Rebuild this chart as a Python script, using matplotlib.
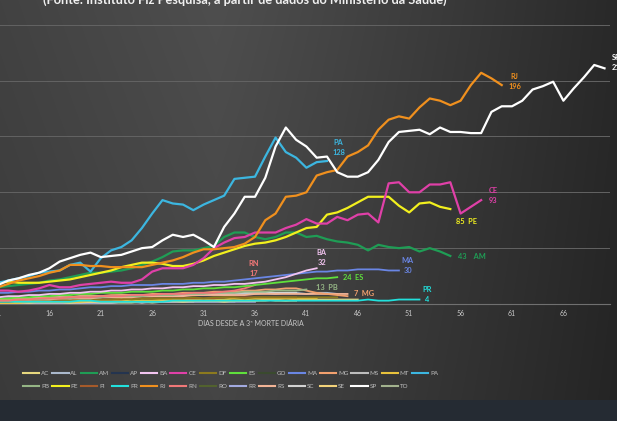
import numpy as np
import matplotlib
matplotlib.use("Agg")
import matplotlib.pyplot as plt
from matplotlib.lines import Line2D

plt.rcParams['font.family'] = ['Lato', 'DejaVu Sans']

# ---------------- data (daily deaths, days since 3rd daily death) ----------------
first_day = 11
SP = [17,21,23,26,28,32,38,41,44,46, 42,43,44,47,50,51,57,62,60,62,
      57,51,69,81,96,96,113,141,158,147, 141,131,132,118,114,114,118,129,145,154,
      155,156,152,158,154,154,153,153,172,177, 177,182,192,195,199,182,193,203,214,211]
RJ = [15,18,21,23,25,28,30,35,35,34, 34,33,33,33,33,35,37,39,42,46,
      49,49,50,51,54,60,75,81,96,97, 100,115,118,120,132,136,142,156,165,168,
      166,176,184,182,178,182,196,207,202,196]
PA = [19,21,23,25,28,29,30,35,37,29, 41,48,51,57,68,81,93,90,89,84,
      89,93,97,112,113,114,132,149,136,131, 122,127,128]
CE = [12,12,11,12,14,17,15,15,17,18, 19,20,19,19,22,29,32,32,32,35,
      41,50,55,59,60,64,64,64,68,71, 76,72,72,78,75,80,81,73,108,109,
      100,100,107,107,109,81,87,93]
PE = [19,20,19,19,19,20,21,22,24,26, 28,30,33,35,37,37,36,34,34,36,
      39,43,46,49,52,54,55,57,60,64, 68,69,80,82,86,91,96,96,96,88,
      82,90,91,87,85]
AM = [15,16,17,18,19,21,22,24,26,28, 28,29,30,32,35,38,42,47,48,48,
      50,52,60,64,64,60,58,60,64,64, 60,61,58,56,55,53,48,53,51,50,
      51,47,50,47,43]
BA = [6,7,7,8,8,9,9,10,10,11, 11,12,12,13,13,14,14,15,15,16,
      16,17,17,18,18,19,20,22,24,27, 30,32]
MA = [10,10,11,11,12,12,13,13,14,15, 15,16,16,17,17,17,18,18,18,19,
      19,20,20,21,22,23,24,25,26,27, 28,29,29,30,30,31,31,31,30,30]
ES = [5,5,6,6,7,7,8,8,9,9, 10,10,10,11,11,11,12,12,13,13,
      14,14,15,15,16,17,18,19,20,21, 22,23,23,24]
RN = [3,3,4,4,5,5,5,6,6,6, 7,7,7,8,8,8,9,9,9,10, 10,10,11,12,14,17]
PB = [3,3,4,4,4,5,5,5,6,6, 6,7,7,7,7,8,8,8,9,9, 9,10,10,10,11,11,11,12,12,12, 13]
MG = [4,4,5,5,5,6,6,6,7,7, 7,8,8,8,8,9,9,9,10,10, 10,11,11,11,12,12,13,13,14,14, 12,10,9,8,7]
PR = [2,2,2,2,2,2,2,2,3,3, 2,2,2,2,2,2,2,3,3,3, 3,3,3,3,3,3,3,3,3,3,
      3,3,3,3,3,3,4,3,3,4, 4,4]
AC = [1,1,2,1,2,2,2,1,2,2, 3,2,2,2,3,2,3,3,2,3, 3,3,2,3,3,3,4,3,3,3]
AL = [4,4,5,4,5,5,6,5,6,6, 6,7,6,7,7,7,8,7,8,8, 8,9,8,9,9,9,10,9,10,10, 9,10,10,9]
AP = [1,1,2,2,2,2,3,2,3,3, 3,3,4,3,4,4,4,3,4,4, 4,4,4,4,4,4,4,4]
DF = [2,2,3,3,3,3,4,3,4,4, 4,4,5,4,5,5,5,5,5,6, 5,6,6,6,5,6,6,6,6,6, 6,6,6,6]
GO = [2,2,2,3,2,3,3,3,3,3, 3,4,3,4,4,4,4,4,4,4, 5,4,5,5,4,5,5,5,5,5]
MS = [0,1,1,1,1,1,1,1,1,2, 1,1,2,2,1,2,2,2,2,2]
MT = [1,1,1,2,2,2,2,2,2,3, 3,3,3,3,3,3,4,4,4,4, 4,4,4,5,4,5,5,5,5,5, 5,5]
PI = [2,2,3,3,3,3,3,4,4,4, 4,4,4,5,5,5,5,5,5,5, 5,5,6,6,6,6,6,6,6,6]
RO = [1,1,1,2,2,2,2,2,2,2, 3,3,3,3,3,3,3,3,3,3, 3,4,4,4,4,4,4,4,4,4, 4,4]
RR = [0,0,1,1,1,1,1,1,1,1, 1,1,2,2,2,2,2,2,2,2, 2,2,2,2,2,2]
RS = [3,3,4,4,4,4,5,5,5,5, 6,6,6,6,7,7,7,7,7,8, 8,8,8,8,8,9,9,9,9,9, 9,9,9,9,9]
SC = [4,5,5,5,6,6,6,6,7,7, 7,7,8,8,8,8,8,9,9,9, 9,9,9,10,10,10,10,10,10,10]
SE = [1,1,1,2,2,2,2,2,2,2, 2,2,3,2,3,3,3,3,3,3, 3,3,3,3,3,3,3,4,3,4, 4,4,4,4,4,4]
TO = [0,0,0,1,1,1,1,1,1,1, 1,1,1,1,2,1,2,2,2,2, 2,2,2,2]

states = ['AC','AL','AM','AP','BA','CE','DF','ES','GO','MA','MG','MS','MT','PA',
          'PB','PE','PI','PR','RJ','RN','RO','RR','RS','SC','SE','SP','TO']
series = dict(AC=AC, AL=AL, AM=AM, AP=AP, BA=BA, CE=CE, DF=DF, ES=ES, GO=GO, MA=MA,
              MG=MG, MS=MS, MT=MT, PA=PA, PB=PB, PE=PE, PI=PI, PR=PR, RJ=RJ, RN=RN,
              RO=RO, RR=RR, RS=RS, SC=SC, SE=SE, SP=SP, TO=TO)
colors = dict(AC='#e6d77e', AL='#aab8cc', AM='#1f9d55', AP='#24344f', BA='#f2c4f0',
              CE='#e040a8', DF='#8c7a1e', ES='#5fe03c', GO='#3a4a2e', MA='#6a86e4',
              MG='#f2a06e', MS='#bdbdbd', MT='#e8c23c', PA='#3cb6e0', PB='#95b585',
              PE='#f2f01e', PI='#a55a2a', PR='#22e0dc', RJ='#f0901e', RN='#f07878',
              RO='#52622e', RR='#a2aae0', RS='#f2b496', SC='#d2d2d2', SE='#f2d27a',
              SP='#ffffff', TO='#a2b28e')
x_ticks = list(range(11, 67, 5))
title_text = "(Fonte: Instituto Fiz Pesquisa, a partir de dados do Ministério da Saúde)"
x_label = "DIAS DESDE A 3ª MORTE DIÁRIA"

# end labels: (text, dx px, dy px, ha)
end_labels = {
    'SP': ("SP\n211", 7, 5.5, 'left'),
    'RJ': ("RJ\n196", 13, 3.5, 'center'),
    'PA': ("PA\n128", 11.5, 13.5, 'center'),
    'CE': ("CE\n93", 12, 5, 'center'),
    'PE': ("85  PE", 16, -12, 'center'),
    'AM': ("43    AM", 22, -1, 'center'),
    'BA': ("BA\n32", 5, 10.5, 'center'),
    'MA': ("MA\n30", 9, 4.5, 'center'),
    'ES': ("24  ES", 16, 0, 'center'),
    'RN': ("RN\n17", -1, 17, 'center'),
    'PB': ("13  PB", 20, 2, 'center'),
    'MG': ("7  MG", 17, 3, 'center'),
    'PR': ("PR\n4", 8, 5.5, 'center'),
}

# ---------------- figure ----------------
W, H = 617, 421
fig = plt.figure(figsize=(W / 100, H / 100), dpi=100)

# background gradient
xx = np.linspace(0, 1, W)[None, :]
yy = np.linspace(0, 1, H)[:, None]
g = np.where(xx < 0.35, 0x42 + (0x4e - 0x42) * xx / 0.35,
             0x4e - (0x4e - 0x29) * ((xx - 0.35) / 0.65) ** 1.1)
g = g * (1 - 0.12 * yy)
img = np.repeat((g / 255.0)[:, :, None], 3, axis=2)
band = int(400)
img[band:, :, :] = np.array([0x25, 0x2b, 0x33]) / 255.0
bg = fig.add_axes([0, 0, 1, 1])
bg.imshow(img, aspect='auto', extent=[0, 1, 0, 1], origin='upper', zorder=0)
bg.set_axis_off()

# main axes (pixel mapping: day 11 at x=-2 px, 10.28 px/day; y=0 at 304 px, 1.117 px/unit)
pxd = 10.28
def day_at(px):
    return 11 + (px + 2) / pxd
left_px, right_px = -30, 610
ax = fig.add_axes([left_px / W, (H - 304) / H, (right_px - left_px) / W, 304 / H])
ax.set_xlim(day_at(left_px), day_at(right_px))
ax.set_ylim(0, 304 / 1.117)
ax.patch.set_alpha(0)
for s in ['top', 'right', 'left']:
    ax.spines[s].set_visible(False)
ax.spines['bottom'].set_color('#707070')
ax.spines['bottom'].set_linewidth(0.8)
ax.set_yticks([50, 100, 150, 200, 250])
ax.yaxis.grid(True, color='#636363', linewidth=0.7)
ax.set_axisbelow(True)
ax.tick_params(axis='y', left=False, labelleft=False)
ax.set_xticks(x_ticks)
ax.set_xticklabels([str(t) for t in x_ticks])
ax.tick_params(axis='x', length=0, pad=4, labelsize=5, labelcolor='#c8c8c8')

order = ['AP', 'GO', 'RO', 'TO', 'RR', 'MS', 'AC', 'SE', 'MT', 'PI', 'DF', 'AL', 'SC', 'RS',
         'PR', 'MG', 'PB', 'RN', 'ES', 'MA', 'BA', 'AM', 'PE', 'CE', 'PA', 'RJ', 'SP']
major = {'SP', 'RJ', 'PA', 'CE', 'PE', 'AM'}
for z, st in enumerate(order):
    vals = series[st]
    days = np.arange(first_day, first_day + len(vals))
    ax.plot(days, vals, color=colors[st], lw=1.6 if st in major else 1.3,
            solid_joinstyle='round', zorder=3 + z * 0.01)
    if st in end_labels:
        txt, dx, dy, ha = end_labels[st]
        ax.annotate(txt, xy=(days[-1], vals[-1]), xytext=(dx * 0.72, dy * 0.72),
                    textcoords='offset points', ha=ha, va='center', color=colors[st],
                    fontsize=5.3, fontweight='bold', linespacing=1.5,
                    annotation_clip=False, zorder=10)

fig.text(251 / W, 1 - 324 / H, x_label, ha='center', va='center', fontsize=5,
         color='#c8c8c8')
fig.text(43 / W, 1 - 4 / H, title_text, ha='left', va='baseline', fontsize=9.2,
         fontweight='bold', color='#f0f0f0')

# legend (row-major order across 14 columns)
handles = [Line2D([], [], color=colors[s], lw=1.5) for s in states]
row1, row2 = list(range(14)), list(range(14, 27))
idx = []
for c in range(14):
    idx.append(row1[c])
    if c < len(row2):
        idx.append(row2[c])
leg = fig.legend([handles[i] for i in idx], [states[i] for i in idx], ncol=14,
                 loc='upper left', bbox_to_anchor=(23 / W, 1 - 371 / H),
                 frameon=False, fontsize=4.5, handlelength=2.6, handletextpad=0.3,
                 columnspacing=0.45, labelspacing=1.15, borderpad=0, borderaxespad=0,
                 labelcolor='#bdbdbd')

fig.savefig('out.png', dpi=100)
